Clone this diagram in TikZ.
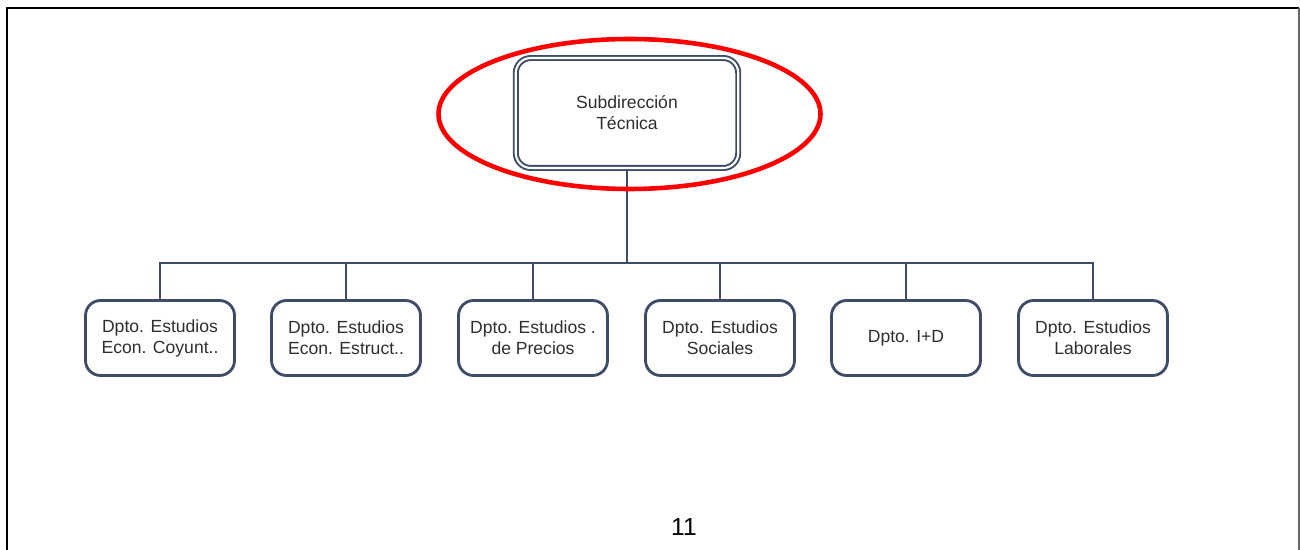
\documentclass[tikz,border=0pt]{standalone}
\usepackage{fontspec}
\setmainfont{Liberation Sans}
\usepackage{tikz}
\usetikzlibrary{calc}
\definecolor{orgline}{HTML}{3E4C68}
\definecolor{orgtext}{HTML}{2E2E2E}

\begin{document}
\begin{tikzpicture}
		[x=0.02cm,y=-0.02cm]
			\tikzstyle{dpto}=[draw=orgline, line width=1.6pt, fill=white,
		rounded corners=0.3cm, minimum width=2.98cm, minimum height=1.5cm,
		align=center, text=orgtext, font=\fontsize{10}{12}\selectfont, inner sep=1pt]
			\tikzstyle{jefe}=[dpto, double=white, double distance=1.2pt, line width=1.1pt,
		minimum width=4.45cm, minimum height=2.2cm]
		\useasboundingbox (0,0) rectangle (1300,550);
		%-----marco
		 \draw[line width=1.1pt] (7,550) -- (7,8) -- (1299,8);
		 \draw[line width=1.1pt, black!60] (1299,8) -- (1299,550);
		%-----nodos
		 \node[jefe]  (ST) at (627,113) {Subdirección\\Técnica};
		 \coordinate (bus) at (627,263);
		 \node[dpto]  (EC) at (160,338) {Dpto. Estudios\\Econ. Coyunt..};
		 \node[dpto]  (EE) at (346,338) {Dpto. Estudios\\Econ. Estruct..};
		 \node[dpto]  (EP) at (533,338) {Dpto. Estudios .\\de Precios};
		 \node[dpto]  (ES) at (720,338) {Dpto. Estudios\\Sociales};
		 \node[dpto]  (ID) at (906,338) {Dpto. I+D};
		 \node[dpto]  (EL) at (1093,338) {Dpto. Estudios\\Laborales};
		 
		 \draw[orgline, line width=1.6pt] (ST.south) -- (bus);
		 \foreach \to in {EC,EE,EP,ES,ID,EL}  
		 \draw[orgline, line width=1.6pt] (bus) -| (\to.north); 
		 
		 \draw[red, line width=2.6pt] (629.5,114) ellipse [x radius=191, y radius=75];
		 \node[font=\fontsize{14}{16}\selectfont] (pag) at (684,527) {11};
		 
		\end{tikzpicture}
\end{document}
